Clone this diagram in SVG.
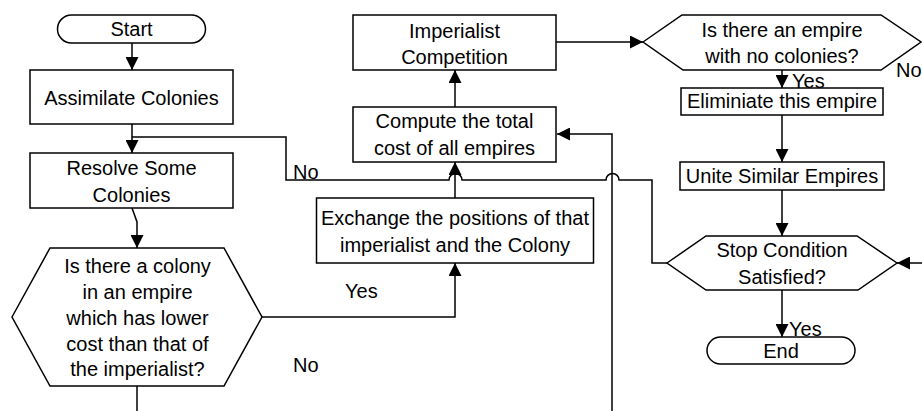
<svg xmlns="http://www.w3.org/2000/svg" width="922" height="411" viewBox="0 0 922 411">
<defs>
<marker id="arr" markerUnits="userSpaceOnUse" markerWidth="13" markerHeight="13" refX="12" refY="6" orient="auto" viewBox="0 0 12 12">
<path d="M0,0 L12,6 L0,12 z" fill="#000"/>
</marker>
<style>
.s{fill:#fff;stroke:#000;stroke-width:1.5}
.c{fill:none;stroke:#000;stroke-width:1.5}
.a{marker-end:url(#arr)}
text{font-family:"Liberation Sans",Arial,sans-serif;font-size:20px;fill:#000}
.m{text-anchor:middle}
</style>
</defs>
<rect width="922" height="411" fill="#fff"/>
<g id="connectors">
<path class="c a" d="M132,43 V70"/>
<path class="c a" d="M132,124 V153"/>
<path class="c" d="M667,263 H652 V180 H619 A6.5,6.5 0 0 0 606,180 H462 A6.5,6.5 0 0 0 449,180 H286 V137 H132"/>
<path class="c a" d="M132,208 L137,222 V248"/>
<path class="c a" d="M262,317 H455 V263"/>
<path class="c a" d="M455,198 V162"/>
<path class="c a" d="M455,107 V70"/>
<path class="c a" d="M556,42 H643"/>
<path class="c" d="M137,386 V411"/>
<path class="c a" d="M612,411 V134 H557"/>
<path class="c a" d="M782,70 V88"/>
<path class="c a" d="M782,115 V162"/>
<path class="c a" d="M782,190 V236"/>
<path class="c a" d="M782,290 V337"/>
<path class="c a" d="M922,263 H897"/>
</g>
<g id="start">
<rect class="s" x="57.5" y="15" width="148" height="28" rx="14"/>
<text class="m" x="131.5" y="36">Start</text>
</g>
<g id="assimilate">
<rect class="s" x="30" y="70" width="203" height="54"/>
<text class="m" x="131.5" y="105">Assimilate Colonies</text>
</g>
<g id="resolve">
<rect class="s" x="30" y="153" width="203" height="55"/>
<text class="m" x="131.5" y="175">Resolve Some</text>
<text class="m" x="131.5" y="201.5">Colonies</text>
</g>
<g id="colony-decision">
<polygon class="s" points="12,317 50,248 224,248 262,317 224,386 50,386"/>
<text class="m" x="137.5" y="273">Is there a colony</text>
<text class="m" x="137.5" y="299">in an empire</text>
<text class="m" x="137.5" y="325">which has lower</text>
<text class="m" x="137.5" y="350.5">cost than that of</text>
<text class="m" x="137.5" y="376">the imperialist?</text>
</g>
<g id="competition">
<rect class="s" x="353" y="15" width="203" height="55"/>
<text class="m" x="454.5" y="37.5">Imperialist</text>
<text class="m" x="454.5" y="63.5">Competition</text>
</g>
<g id="compute">
<rect class="s" x="353" y="107" width="203" height="55"/>
<text class="m" x="454.5" y="128">Compute the total</text>
<text class="m" x="454.5" y="155">cost of all empires</text>
</g>
<g id="exchange">
<rect class="s" x="316.5" y="198" width="277" height="65"/>
<text class="m" x="455" y="225">Exchange the positions of that</text>
<text class="m" x="455" y="251.5">imperialist and the Colony</text>
</g>
<g id="empire-decision">
<polygon class="s" points="643,42 682,15 881,15 921,42 881,70 683,70"/>
<text class="m" x="782" y="36.7">Is there an empire</text>
<text class="m" x="782" y="63.3">with no colonies?</text>
</g>
<g id="eliminate">
<rect class="s" x="681" y="88" width="202" height="27"/>
<text class="m" x="782" y="108">Eliminiate this empire</text>
</g>
<g id="unite">
<rect class="s" x="680" y="162" width="204" height="28"/>
<text class="m" x="782" y="183">Unite Similar Empires</text>
</g>
<g id="stop-decision">
<polygon class="s" points="667,263 706,236 857,236 897,263 858,290 706,290"/>
<text class="m" x="782" y="257">Stop Condition</text>
<text class="m" x="782" y="284">Satisfied?</text>
</g>
<g id="end">
<rect class="s" x="707" y="337" width="148" height="27" rx="13.5"/>
<text class="m" x="781" y="358">End</text>
</g>
<g id="labels">
<text x="293" y="178.5">No</text>
<text x="345" y="298">Yes</text>
<text x="293" y="372">No</text>
<text x="792" y="88">Yes</text>
<text x="896" y="77" font-size="19">No</text>
<text x="789" y="336">Yes</text>
</g>
</svg>
